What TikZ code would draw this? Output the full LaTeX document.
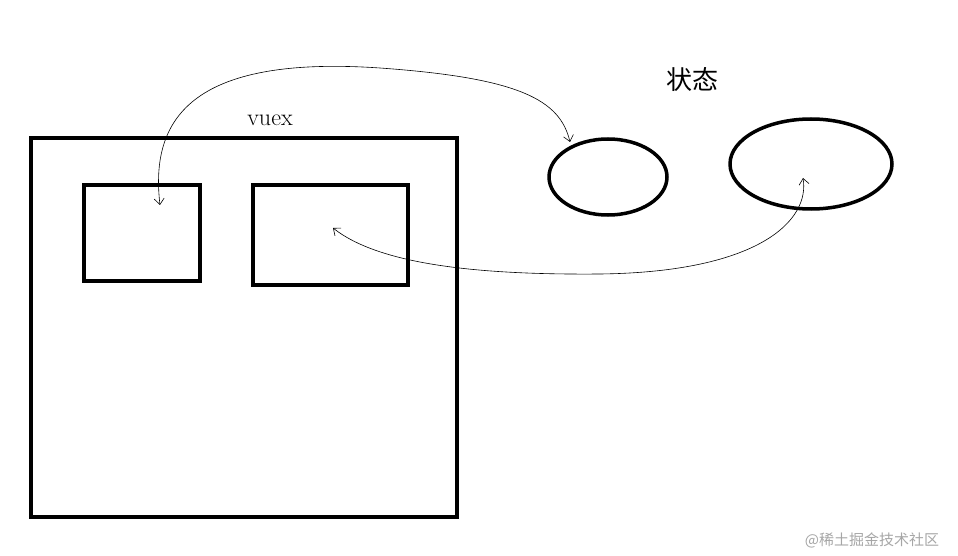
\documentclass[tikz,border=0pt]{standalone}
\usepackage{fontspec}
\newfontfamily\cjk{Noto Sans CJK SC}
\usetikzlibrary{shapes.geometric,arrows.meta}
\begin{document}
\begin{tikzpicture}[x=1pt,y=-1pt,
  box/.style={draw,line width=3.5pt,inner sep=0pt},
  oval/.style={draw,ellipse,line width=3.5pt,inner sep=0pt},
  link/.style={line width=0.6pt,{Straight Barb[length=6pt,width=10pt]}-{Straight Barb[length=6pt,width=10pt]}}]
\useasboundingbox (0,0) rectangle (958,556);
\node[box,minimum width=426pt,minimum height=379pt] (vuex) at (244,327.5) {};
\node[box,minimum width=116pt,minimum height=96pt] (a) at (142,233) {};
\node[box,minimum width=155pt,minimum height=100pt] (b) at (330.5,235) {};
\node[oval,minimum width=118pt,minimum height=76pt] (e1) at (608,177) {};
\node[oval,minimum width=162pt,minimum height=90pt] (e2) at (811,164) {};
\node[font=\fontsize{24}{28}\selectfont] (t1) at (270,120) {vuex};
\node[font=\cjk\fontsize{26}{30}\selectfont] (t2) at (692,80) {状态};
\node[font=\cjk\fontsize{15}{18}\selectfont,text=gray!70] (wm) at (872,540) {@稀土掘金技术社区};
\coordinate (p1) at (160,205);
\coordinate (p2) at (570,142);
\coordinate (p3) at (333,228);
\coordinate (p4) at (803,178);
\draw[link] (p1) .. controls (150,120) and (190,55) .. (380,68) .. controls (520,78) and (560,100) .. (p2);
\draw[link] (p3) .. controls (380,265) and (480,275) .. (600,274) .. controls (760,272) and (810,220) .. (p4);
\end{tikzpicture}
\end{document}
